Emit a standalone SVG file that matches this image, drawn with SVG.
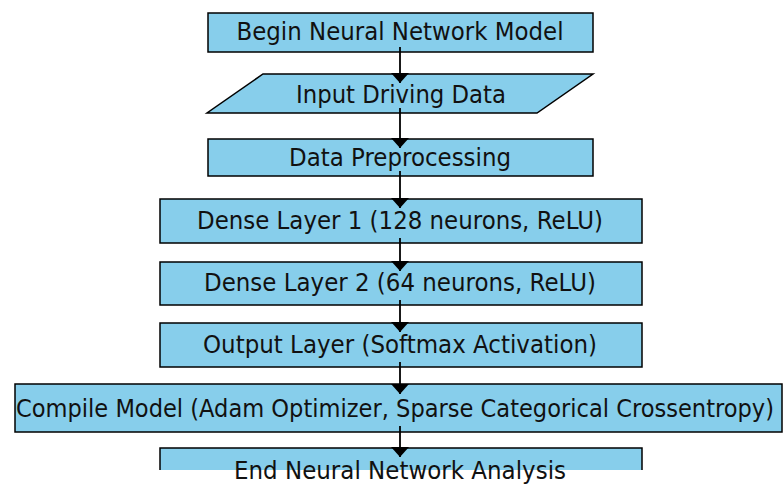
<svg xmlns="http://www.w3.org/2000/svg" width="783" height="484" viewBox="0 0 783 484">
  <style>
    .box { fill: #87CEEB; stroke: #000; stroke-width: 1.5; }
    .lbl { font-family: "DejaVu Sans", sans-serif; font-size: 24px; fill: #111; text-anchor: middle; dominant-baseline: central; }
    .conn { stroke: #000; stroke-width: 1.8; fill: none; marker-end: url(#ah); }
  </style>
  <defs>
    <marker id="ah" viewBox="0 0 10 18" refX="10" refY="9" markerWidth="10" markerHeight="18" markerUnits="userSpaceOnUse" orient="auto">
      <path d="M0,0 L10,9 L0,18 z" fill="#000"/>
    </marker>
  </defs>
  <rect width="783" height="484" fill="#fff"/>

  <g id="n1">
    <rect class="box" x="208" y="13" width="385" height="39"/>
    <text class="lbl" x="400" y="32" textLength="327" lengthAdjust="spacingAndGlyphs">Begin Neural Network Model</text>
  </g>
  <g id="n2">
    <polygon class="box" points="263,74 593,74 537,113 207,113"/>
    <text class="lbl" x="401" y="95" textLength="210" lengthAdjust="spacingAndGlyphs">Input Driving Data</text>
  </g>
  <g id="n3">
    <rect class="box" x="208" y="139" width="385" height="37"/>
    <text class="lbl" x="400" y="158" textLength="222" lengthAdjust="spacingAndGlyphs">Data Preprocessing</text>
  </g>
  <g id="n4">
    <rect class="box" x="160" y="199" width="482" height="44"/>
    <text class="lbl" x="400" y="221" textLength="406" lengthAdjust="spacingAndGlyphs">Dense Layer 1 (128 neurons, ReLU)</text>
  </g>
  <g id="n5">
    <rect class="box" x="160" y="262" width="482" height="43"/>
    <text class="lbl" x="400" y="283" textLength="392" lengthAdjust="spacingAndGlyphs">Dense Layer 2 (64 neurons, ReLU)</text>
  </g>
  <g id="n6">
    <rect class="box" x="160" y="323" width="482" height="44"/>
    <text class="lbl" x="400" y="345" textLength="394" lengthAdjust="spacingAndGlyphs">Output Layer (Softmax Activation)</text>
  </g>
  <g id="n7">
    <rect class="box" x="15" y="384" width="767" height="48"/>
    <text class="lbl" transform="translate(395,408) scale(1,1.2)" x="0" y="0" style="font-size:20px" textLength="758" lengthAdjust="spacingAndGlyphs">Compile Model (Adam Optimizer, Sparse Categorical Crossentropy)</text>
  </g>
  <g id="n8">
    <rect x="160" y="448" width="482" height="22" fill="#87CEEB"/>
    <path d="M160,470 V448 H642 V470" fill="none" stroke="#000" stroke-width="1.5"/>
    <text class="lbl" x="400" y="471" textLength="332" lengthAdjust="spacingAndGlyphs">End Neural Network Analysis</text>
  </g>

  <g id="connectors">
    <line class="conn" x1="400" y1="47" x2="400" y2="83"/>
    <line class="conn" x1="400" y1="108" x2="400" y2="148"/>
    <line class="conn" x1="400" y1="171" x2="400" y2="208"/>
    <line class="conn" x1="400" y1="238" x2="400" y2="271"/>
    <line class="conn" x1="400" y1="300" x2="400" y2="332"/>
    <line class="conn" x1="400" y1="362" x2="400" y2="394"/>
    <line class="conn" x1="400" y1="426" x2="400" y2="457"/>
  </g>
</svg>
